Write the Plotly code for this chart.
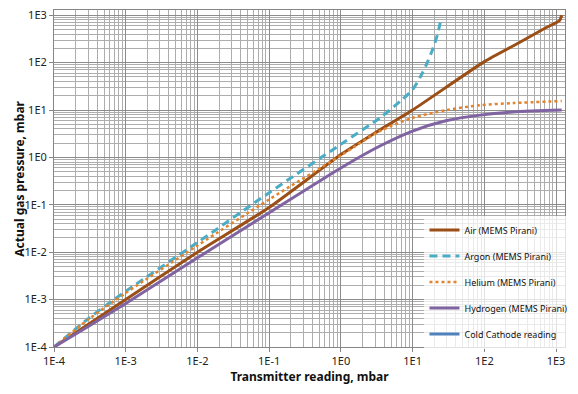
import plotly.graph_objects as go

# Transmitter reading (x) vs actual gas pressure (y), mbar
air_x = [1e-4, 1e-3, 1e-2, 1e-1, 1.0, 3.0, 10.0, 100.0, 300.0, 700.0, 1120.0, 1200.0]
air_y = [1e-4, 1e-3, 1e-2, 0.088, 1.15, 3.3, 10.0, 105.0, 260.0, 530.0, 776.0, 1000.0]

argon_x = [1e-4, 3e-4, 1e-3, 1e-2, 1e-1, 1.0, 3.5, 6.8, 10.0, 13.0, 16.0, 19.0, 22.0, 25.0]
argon_y = [1e-4, 3.95e-4, 1.5e-3, 1.6e-2, 0.18, 1.9, 6.8, 15.5, 27.0, 52.0, 100.0, 190.0, 370.0, 850.0]

helium_x = [1e-4, 3e-4, 1e-3, 1e-2, 1e-1, 1.0, 3.5, 10.0, 30.0, 87.0, 250.0, 1200.0]
helium_y = [1e-4, 3.8e-4, 1.38e-3, 1.38e-2, 0.13, 1.1, 3.6, 6.8, 10.0, 12.6, 14.0, 15.5]

hydrogen_x = [1e-4, 3e-4, 1e-3, 1e-2, 1e-1, 1.0, 3.5, 10.0, 30.0, 87.0, 250.0, 1200.0]
hydrogen_y = [1e-4, 2.7e-4, 8.3e-4, 7.6e-3, 0.068, 0.6, 1.74, 3.6, 6.0, 7.8, 9.1, 10.0]

cold_x = [1e-5, 1e-4]
cold_y = [1e-5, 1e-4]

tick_vals = [1e-4, 1e-3, 1e-2, 1e-1, 1e0, 1e1, 1e2, 1e3]
tick_text = ["1E-4", "1E-3", "1E-2", "1E-1", "1E0", "1E1", "1E2", "1E3"]

FONT = "Noto Sans"

fig = go.Figure()
fig.add_trace(go.Scatter(x=air_x, y=air_y, mode="lines", name="Air (MEMS Pirani)",
                         legendgroup="a",
                         line=dict(color="#9B4F17", width=3, shape="spline", smoothing=0.5)))
fig.add_trace(go.Scatter(x=argon_x, y=argon_y, mode="lines", name="Argon (MEMS Pirani)",
                         legendgroup="b",
                         line=dict(color="#4BACC6", width=3, dash="8px,5px", shape="spline", smoothing=0.8)))
fig.add_trace(go.Scatter(x=helium_x, y=helium_y, mode="lines", name="Helium (MEMS Pirani)",
                         legendgroup="c",
                         line=dict(color="#E2832E", width=2.5, dash="dot", shape="spline", smoothing=0.8)))
fig.add_trace(go.Scatter(x=hydrogen_x, y=hydrogen_y, mode="lines", name="Hydrogen (MEMS Pirani)",
                         legendgroup="d",
                         line=dict(color="#8064A2", width=3, shape="spline", smoothing=0.8)))
fig.add_trace(go.Scatter(x=cold_x, y=cold_y, mode="lines", name="Cold Cathode reading",
                         legendgroup="e", line=dict(color="#4F81BD", width=3)))

axis_common = dict(
    type="log",
    tickvals=tick_vals,
    ticktext=tick_text,
    showgrid=True,
    gridcolor="#8C8C8C",
    gridwidth=1,
    minor=dict(dtick="D1", showgrid=True, gridcolor="#ADADAD", gridwidth=1, ticks=""),
    showline=True,
    linecolor="#868686",
    linewidth=1,
    mirror=True,
    ticks="outside",
    ticklen=4,
    tickcolor="#868686",
    tickfont=dict(family=FONT, size=11, color="#222222"),
    zeroline=False,
    automargin=False,
    ticklabeloverflow="allow",
)

fig.update_xaxes(range=[-4, 3.125],
                 title=dict(text="<b>Transmitter reading, mbar</b>",
                            font=dict(family=FONT, size=12, color="#111111"), standoff=0),
                 **axis_common)
fig.update_yaxes(range=[-4, 3.11], **axis_common)

fig.add_annotation(
    text="<b>Actual gas pressure, mbar</b>",
    xref="paper", yref="paper", x=-0.068, y=0.5,
    xanchor="center", yanchor="middle", textangle=-90, showarrow=False,
    font=dict(family=FONT, size=12, color="#111111"),
)

# The page body has an 8px default margin, so the figure is offset by 8px.
fig.update_layout(
    width=570, height=386,
    margin=dict(l=46, r=13, t=2, b=47),
    plot_bgcolor="white",
    paper_bgcolor="white",
    showlegend=True,
    legend=dict(
        x=0.725, y=0.39, xanchor="left", yanchor="top",
        bgcolor="rgba(255,255,255,0.75)",
        font=dict(family=FONT, size=9, color="#111111"),
        itemwidth=30,
        tracegroupgap=7,
        traceorder="grouped",
    ),
)

fig.write_html("out.html")
